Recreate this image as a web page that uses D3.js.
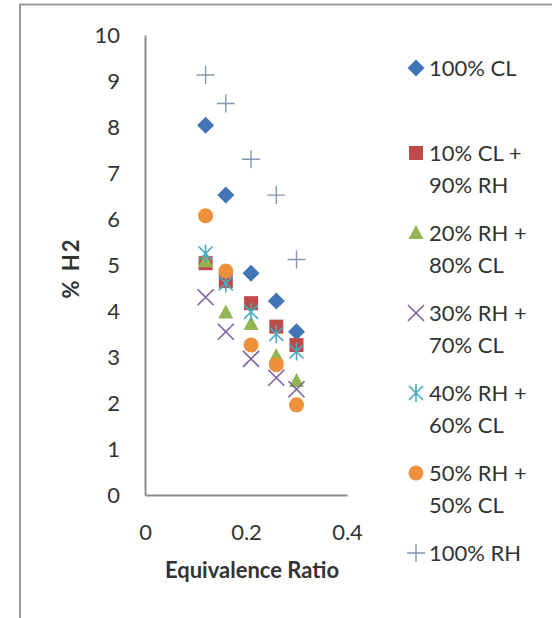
<!DOCTYPE html>
<html>
<head>
<meta charset="utf-8">
<script src="https://cdn.jsdelivr.net/npm/d3@7"></script>
<style>
  html, body { margin: 0; padding: 0; background: #fff; }
  svg { display: block; }
  text { font-family: Lato, "Open Sans", sans-serif; fill: #333; }
</style>
</head>
<body>
<svg id="chart" width="552" height="618"></svg>
<script>
// ---- data ----
const xValues = [0.12, 0.16, 0.21, 0.26, 0.30];
const seriesNames = [
  ["100% CL"],
  ["10% CL +", "90% RH"],
  ["20% RH +", "80% CL"],
  ["30% RH +", "70% CL"],
  ["40% RH +", "60% CL"],
  ["50% RH +", "50% CL"],
  ["100% RH"]
];
const cl100   = [8.04, 6.52, 4.82, 4.22, 3.55];
const cl10rh90 = [5.04, 4.65, 4.17, 3.66, 3.26];
const rh20cl80 = [5.08, 3.97, 3.72, 3.02, 2.48];
const rh30cl70 = [4.30, 3.55, 2.96, 2.55, 2.30];
const rh40cl60 = [5.25, 4.60, 3.98, 3.50, 3.12];
const rh50cl50 = [6.07, 4.87, 3.26, 2.83, 1.96];
const rh100    = [9.13, 8.51, 7.30, 6.52, 5.12];
const seriesValues = [cl100, cl10rh90, rh20cl80, rh30cl70, rh40cl60, rh50cl50, rh100];
const xTicks = [0, 0.2, 0.4];
const yTicks = [0, 1, 2, 3, 4, 5, 6, 7, 8, 9, 10];
const xTitle = "Equivalence Ratio";
const yTitle = "% H2";

// ---- styles ----
const markerKinds = ["diamond", "square", "triangle", "x", "star", "circle", "plus"];
const colors = ["#4275b5", "#be4b48", "#93b552", "#7d60a0", "#46aac5", "#ee8f3c", "#8497b0"];

const svg = d3.select("#chart");

// outer frame
svg.append("rect")
  .attr("x", 20).attr("y", 4.5)
  .attr("width", 600).attr("height", 700)
  .attr("fill", "none").attr("stroke", "#9a9a9a").attr("stroke-width", 2);

const x = d3.scaleLinear().domain([0, 0.4]).range([145, 347]);
const y = d3.scaleLinear().domain([0, 10]).range([495, 35]);

// axes
const xAxis = d3.axisBottom(x).tickValues(xTicks).tickSize(0).tickPadding(0)
  .tickFormat(d => d === 0 ? "0" : d3.format(".1f")(d));
const yAxis = d3.axisLeft(y).tickValues(yTicks).tickSize(0).tickPadding(0)
  .tickFormat(d3.format("d"));

const gx = svg.append("g").attr("transform", "translate(0,495)").call(xAxis);
gx.select(".domain").attr("stroke", "#8c8c8c").attr("stroke-width", 2);
gx.selectAll("text").attr("font-size", 22).attr("fill", "#333")
  .attr("dy", null).attr("y", 45);

const gy = svg.append("g").attr("transform", "translate(145,0)").call(yAxis);
gy.select(".domain").attr("stroke", "#8c8c8c").attr("stroke-width", 2);
gy.selectAll("text").attr("font-size", 22).attr("fill", "#333")
  .attr("x", -25).attr("dy", "0.36em");
svg.selectAll(".tick text").style("font-family", "Lato, 'Open Sans', sans-serif");

// axis titles
svg.append("text")
  .attr("x", 252).attr("y", 578)
  .attr("text-anchor", "middle")
  .attr("font-size", 22).attr("font-weight", "bold")
  .text(xTitle);
svg.append("text")
  .attr("transform", "translate(79,268) rotate(-90)")
  .attr("text-anchor", "middle")
  .attr("font-size", 22).attr("font-weight", "bold")
  .attr("letter-spacing", 2)
  .text(yTitle);

// marker drawing
function drawMarker(g, kind, color) {
  switch (kind) {
    case "diamond":
      g.append("path").attr("d", "M0,-8.5L8.5,0L0,8.5L-8.5,0Z").attr("fill", color);
      break;
    case "square":
      g.append("rect").attr("x", -7).attr("y", -7).attr("width", 14).attr("height", 14).attr("fill", color);
      break;
    case "triangle":
      g.append("path").attr("d", "M0,-8L7.5,6L-7.5,6Z").attr("fill", color);
      break;
    case "circle":
      g.append("circle").attr("r", 7.5).attr("fill", color);
      break;
    case "x":
      g.append("path").attr("d", "M-8,-8L8,8M-8,8L8,-8")
        .attr("stroke", color).attr("stroke-width", 1.6).attr("fill", "none");
      break;
    case "star":
      g.append("path").attr("d", "M-7,-7L7,7M-7,7L7,-7M0,-9L0,9")
        .attr("stroke", color).attr("stroke-width", 1.6).attr("fill", "none");
      break;
    case "plus":
      g.append("path").attr("d", "M-9,0L9,0M0,-9L0,9")
        .attr("stroke", color).attr("stroke-width", 1.4).attr("fill", "none");
      break;
  }
}

// points
seriesValues.forEach((vals, si) => {
  const g = svg.append("g").attr("class", "series");
  vals.forEach((v, i) => {
    const m = g.append("g").attr("transform", `translate(${x(xValues[i])},${y(v)})`);
    drawMarker(m, markerKinds[si], colors[si]);
  });
});

// legend
const legendY = i => i === 0 ? 68 : 153 + (i - 1) * 80;
seriesNames.forEach((lines, i) => {
  const ly = legendY(i);
  const m = svg.append("g").attr("transform", `translate(416,${ly})`);
  drawMarker(m, markerKinds[i], colors[i]);
  const t = svg.append("text").attr("x", 429).attr("y", ly).attr("font-size", 22);
  lines.forEach((ln, k) => {
    t.append("tspan").attr("x", 429).attr("dy", k === 0 ? "0.36em" : 32).text(ln);
  });
});
</script>
</body>
</html>
